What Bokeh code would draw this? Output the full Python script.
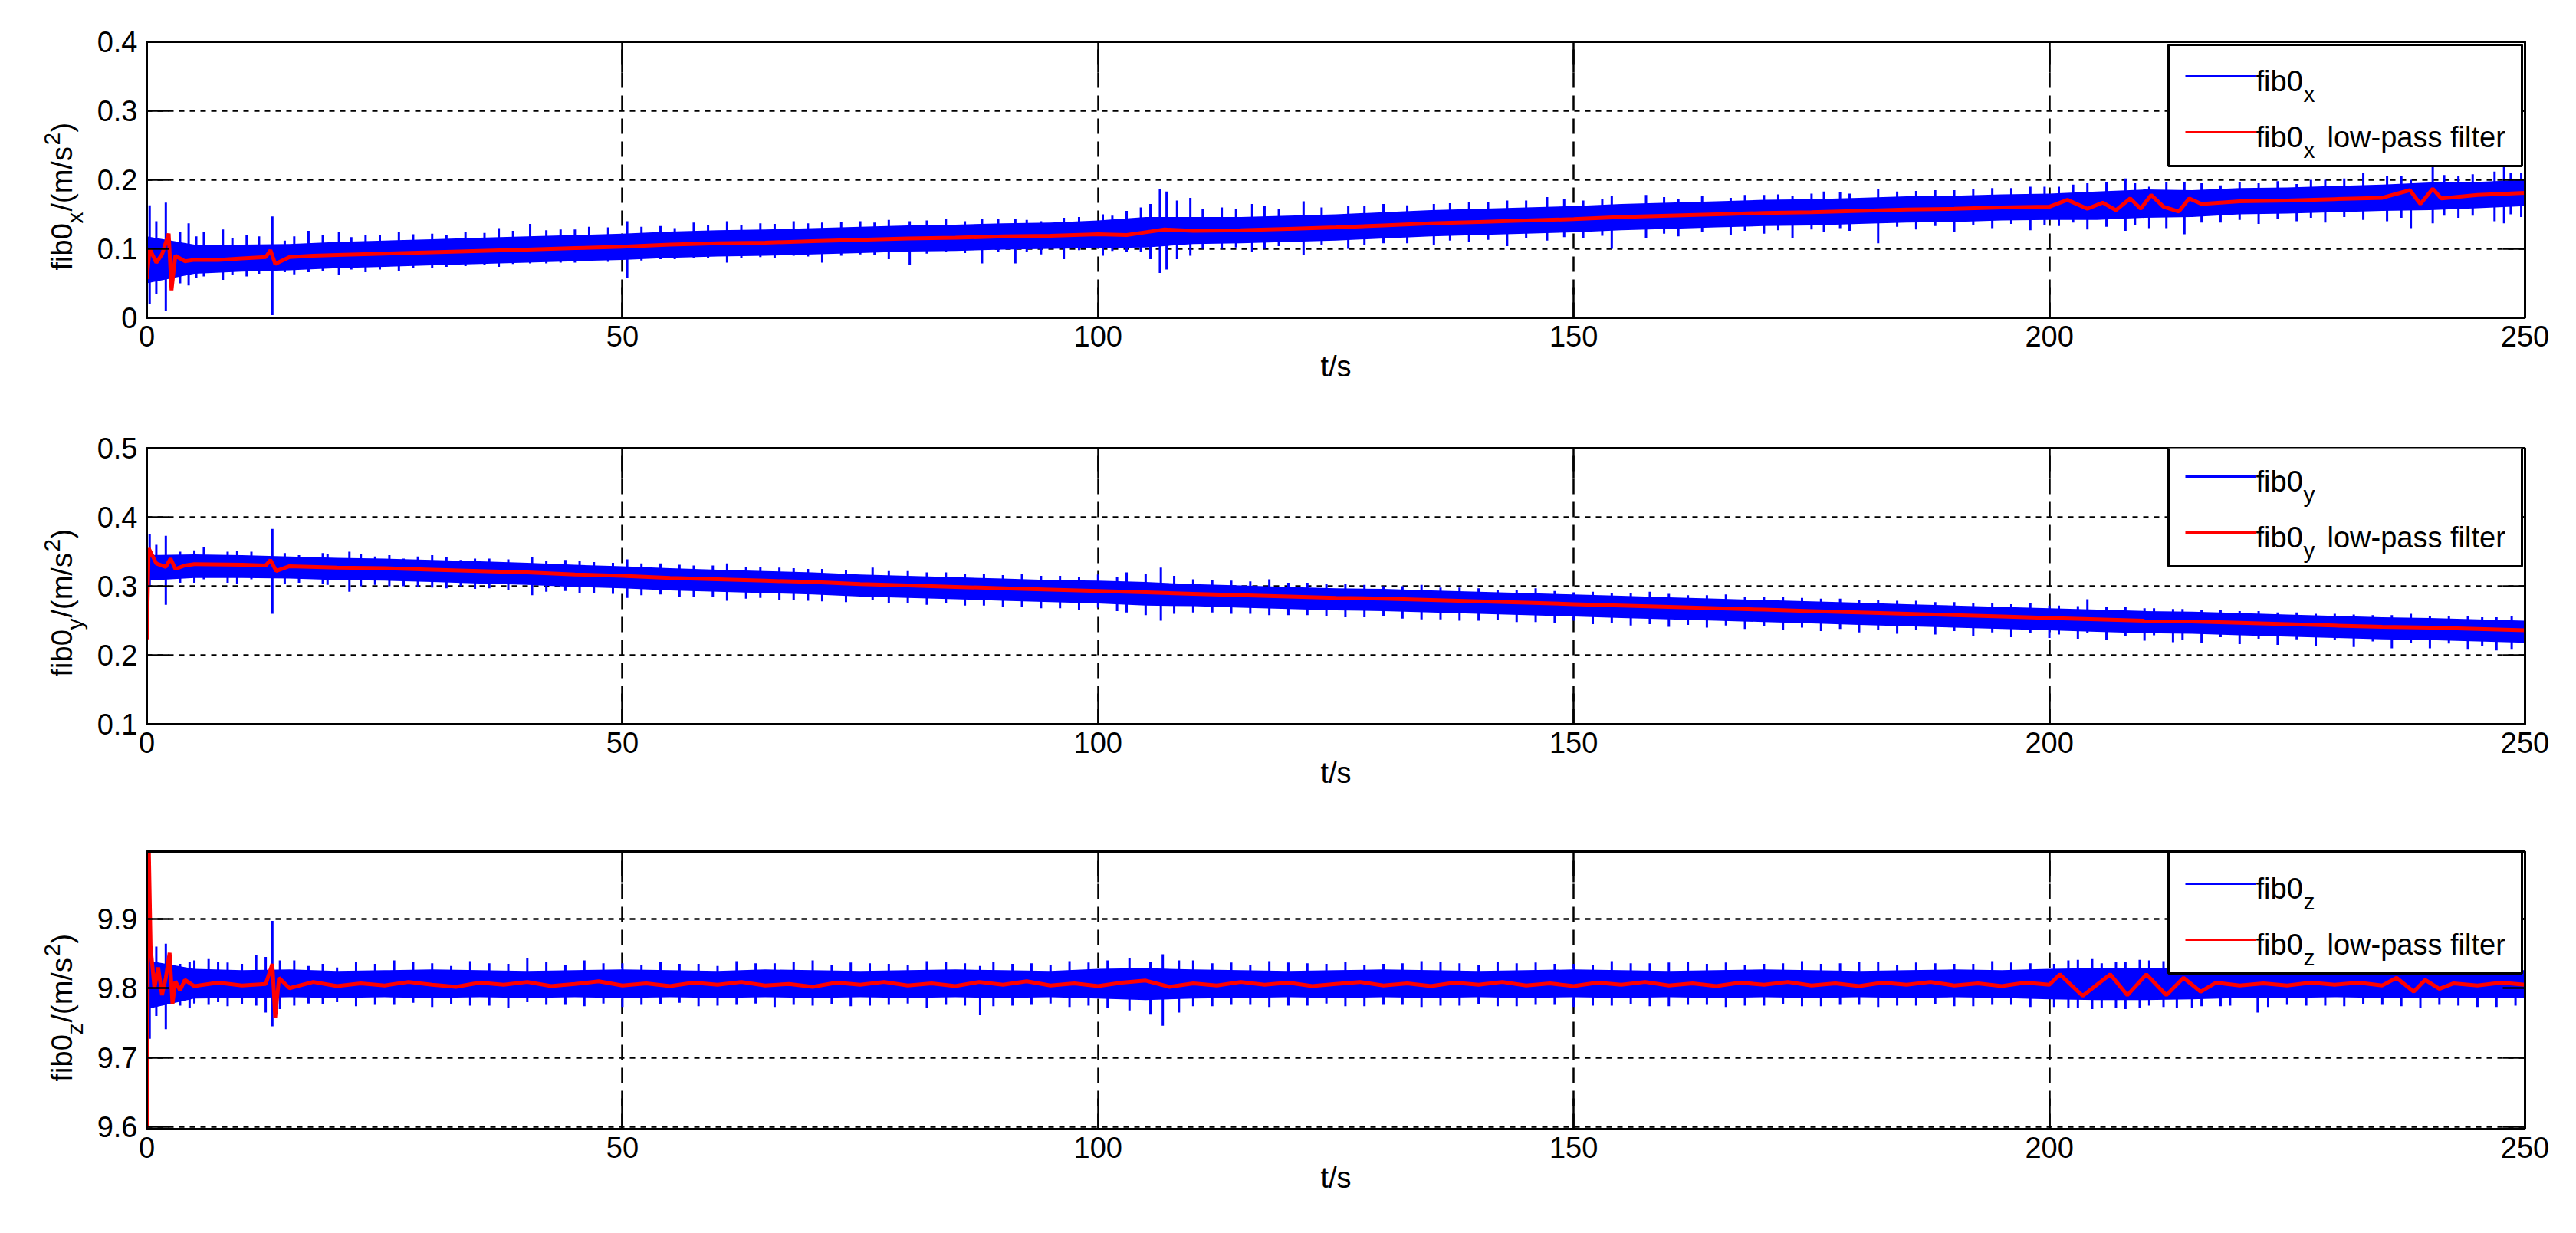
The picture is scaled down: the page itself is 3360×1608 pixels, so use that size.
import numpy as np
from math import pi
from bokeh.plotting import figure
from bokeh.models import (Range1d, FixedTicker, LinearAxis, CustomJSTickFormatter,
                          BoxAnnotation, Label)
from bokeh.layouts import column, row
from bokeh.embed import file_html
from bokeh.resources import INLINE

FONT = "Liberation Sans"
BLUE = "#0000ff"
RED = "#ff0000"

# ---------------- data ----------------
X_TICKS = [0, 50, 100, 150, 200, 250]
T5 = list(range(0, 251, 5))  # envelope sample times (s)

# ---- panel x ----
X_YTICKS = [0, 0.1, 0.2, 0.3, 0.4]
X_HI = [0.118, 0.106, 0.106, 0.107, 0.110, 0.112, 0.114, 0.116, 0.118, 0.120,
        0.122, 0.125, 0.127, 0.128, 0.130, 0.132, 0.134, 0.135, 0.137, 0.138,
        0.141, 0.146, 0.146, 0.146, 0.148, 0.150, 0.153, 0.156, 0.158, 0.160,
        0.162, 0.165, 0.167, 0.169, 0.171, 0.172, 0.174, 0.176, 0.177, 0.179,
        0.180, 0.183, 0.186, 0.185, 0.188, 0.189, 0.191, 0.193, 0.196, 0.197, 0.200]
X_LO = [0.050, 0.064, 0.067, 0.069, 0.072, 0.074, 0.076, 0.078, 0.080, 0.082,
        0.084, 0.087, 0.089, 0.090, 0.092, 0.094, 0.096, 0.097, 0.099, 0.100,
        0.101, 0.102, 0.107, 0.108, 0.110, 0.112, 0.115, 0.118, 0.120, 0.122,
        0.124, 0.127, 0.129, 0.131, 0.133, 0.134, 0.136, 0.138, 0.139, 0.141,
        0.142, 0.142, 0.145, 0.146, 0.150, 0.151, 0.153, 0.155, 0.156, 0.159, 0.162]
XS_T = [0.3, 1.0, 2.0, 3.5, 4.4, 6.0, 8.0, 10.5, 13.2, 15.5, 17.0, 20.2, 23.0, 26.5, 30.0,
        33.5, 37.0, 40.3, 43.5, 46.5, 50.5, 54.0, 57.5, 61.0, 64.5, 68.0, 71.0, 75.0, 78.0,
        80.2, 84.0, 87.8, 91.3, 94.0, 96.4, 100.5, 103.0, 106.5, 107.2, 109.7, 113.0, 116.2,
        119.0, 121.6, 126.3, 130.0, 135.3, 139.0, 143.0, 147.2, 151.0, 154.0, 157.6, 161.0,
        166.5, 170.0, 173.0, 176.3, 179.0, 182.0, 186.0, 190.0, 194.0, 198.0, 201.0, 204.0,
        208.0, 210.5, 212.3, 214.2, 218.0, 222.0, 226.0, 229.0, 233.0, 235.5, 238.0, 240.3,
        243.0, 246.8, 247.8, 249.6]
XS_LO = [0.020, 0.035, 0.010, 0.050, 0.047, 0.060, 0.055, 0.060, 0.004, 0.063, 0.066, 0.062,
         0.066, 0.068, 0.072, 0.075, 0.074, 0.079, 0.080, 0.082, 0.058, 0.085, 0.086, 0.080,
         0.088, 0.090, 0.080, 0.092, 0.085, 0.076, 0.095, 0.079, 0.079, 0.092, 0.085, 0.090,
         0.095, 0.065, 0.070, 0.090, 0.100, 0.095, 0.104, 0.091, 0.100, 0.108, 0.105, 0.110,
         0.104, 0.112, 0.115, 0.100, 0.115, 0.118, 0.120, 0.122, 0.115, 0.124, 0.126, 0.108,
         0.128, 0.125, 0.130, 0.127, 0.133, 0.128, 0.126, 0.130, 0.130, 0.121, 0.138, 0.136,
         0.140, 0.138, 0.142, 0.140, 0.130, 0.137, 0.145, 0.140, 0.137, 0.146]
XS_HI = [0.163, 0.140, 0.167, 0.125, 0.137, 0.125, 0.128, 0.120, 0.147, 0.118, 0.126, 0.124,
         0.120, 0.125, 0.122, 0.124, 0.130, 0.136, 0.128, 0.132, 0.140, 0.133, 0.138, 0.140,
         0.137, 0.140, 0.138, 0.140, 0.142, 0.140, 0.143, 0.143, 0.143, 0.140, 0.145, 0.150,
         0.155, 0.186, 0.183, 0.174, 0.160, 0.165, 0.158, 0.169, 0.162, 0.165, 0.165, 0.168,
         0.170, 0.175, 0.170, 0.177, 0.178, 0.172, 0.174, 0.178, 0.176, 0.183, 0.180, 0.186,
         0.184, 0.185, 0.188, 0.190, 0.190, 0.195, 0.202, 0.190, 0.196, 0.196, 0.192, 0.195,
         0.194, 0.200, 0.210, 0.205, 0.200, 0.219, 0.205, 0.212, 0.219, 0.210]
# additional smaller excursions (t, low, high)
XS_EXTRA = [(5.2, 0.058, 0.118), (9.0, 0.062, 0.115), (11.8, 0.064, 0.118), (14.5, 0.066, 0.112),
            (18.5, 0.068, 0.120), (21.5, 0.070, 0.117), (24.5, 0.070, 0.120), (28.0, 0.072, 0.121),
            (31.5, 0.074, 0.120), (35.5, 0.077, 0.123), (38.5, 0.078, 0.126), (42.0, 0.079, 0.127),
            (45.0, 0.080, 0.128), (48.5, 0.081, 0.131), (52.0, 0.083, 0.132), (55.5, 0.085, 0.130),
            (59.0, 0.086, 0.135), (62.5, 0.087, 0.134), (66.0, 0.087, 0.136), (69.5, 0.089, 0.137),
            (73.0, 0.090, 0.139), (76.5, 0.091, 0.138), (82.0, 0.093, 0.141), (86.0, 0.094, 0.140),
            (89.5, 0.095, 0.144), (92.5, 0.096, 0.142), (98.0, 0.098, 0.146), (101.5, 0.097, 0.148),
            (104.5, 0.095, 0.160), (105.5, 0.085, 0.165), (108.3, 0.085, 0.170), (111.0, 0.100, 0.158),
            (114.5, 0.102, 0.158), (117.5, 0.100, 0.162), (123.5, 0.105, 0.160), (128.0, 0.106, 0.162),
            (132.5, 0.108, 0.163), (137.0, 0.112, 0.166), (141.0, 0.113, 0.168), (145.0, 0.115, 0.170),
            (149.0, 0.117, 0.172), (153.0, 0.119, 0.172), (159.5, 0.122, 0.175), (163.5, 0.124, 0.176),
            (168.0, 0.126, 0.178), (171.5, 0.127, 0.179), (175.0, 0.128, 0.180), (178.0, 0.130, 0.182),
            (184.0, 0.132, 0.183), (188.0, 0.133, 0.185), (192.0, 0.134, 0.186), (196.0, 0.136, 0.188),
            (199.5, 0.135, 0.190), (202.5, 0.138, 0.193), (206.0, 0.132, 0.196), (209.0, 0.135, 0.195),
            (216.0, 0.138, 0.195), (220.0, 0.142, 0.197), (224.0, 0.143, 0.198), (227.5, 0.145, 0.200),
            (231.0, 0.146, 0.202), (237.0, 0.145, 0.206), (241.5, 0.148, 0.207), (244.5, 0.148, 0.208),
            (248.5, 0.150, 0.210)]
XR_T = [0, 0.3, 1, 1.6, 2.3, 2.6, 3, 4, 5, 7.5, 10, 12.5, 13, 13.5, 15, 17.5, 20, 25, 30, 35,
        40, 45, 50, 55, 60, 65, 70, 75, 80, 85, 90, 95, 100, 103, 105, 107, 110, 115, 120, 125,
        130, 135, 140, 145, 150, 155, 160, 165, 170, 175, 180, 185, 190, 195, 200, 201.9, 204.0,
        205.6, 207.0, 208.5, 209.6, 210.7, 212.0, 213.6, 214.7, 216.0, 220, 225, 230, 235,
        237.9, 239.0, 240.3, 241.2, 245, 250]
XR_V = [0.056, 0.100, 0.080, 0.092, 0.122, 0.040, 0.090, 0.082, 0.084, 0.084, 0.086, 0.088,
        0.098, 0.078, 0.088, 0.090, 0.091, 0.093, 0.095, 0.097, 0.099, 0.101, 0.103, 0.106,
        0.108, 0.109, 0.111, 0.113, 0.115, 0.116, 0.118, 0.119, 0.121, 0.120, 0.124, 0.128,
        0.126, 0.127, 0.129, 0.131, 0.134, 0.137, 0.139, 0.141, 0.143, 0.146, 0.148, 0.150,
        0.152, 0.153, 0.155, 0.157, 0.158, 0.160, 0.161, 0.171, 0.158, 0.167, 0.156, 0.173,
        0.158, 0.178, 0.161, 0.154, 0.173, 0.165, 0.169, 0.170, 0.172, 0.174, 0.185, 0.165,
        0.187, 0.173, 0.178, 0.181]

# ---- panel y ----
Y_YTICKS = [0.1, 0.2, 0.3, 0.4, 0.5]
Y_HI = [0.345, 0.346, 0.345, 0.343, 0.341, 0.340, 0.338, 0.336, 0.334, 0.331, 0.329, 0.326,
        0.324, 0.322, 0.320, 0.317, 0.315, 0.313, 0.311, 0.309, 0.308, 0.306, 0.303, 0.301,
        0.299, 0.297, 0.296, 0.294, 0.292, 0.290, 0.288, 0.286, 0.284, 0.282, 0.280, 0.278,
        0.276, 0.274, 0.272, 0.270, 0.268, 0.266, 0.264, 0.263, 0.261, 0.259, 0.257, 0.255,
        0.254, 0.252, 0.250]
Y_LO = [0.308, 0.312, 0.312, 0.311, 0.309, 0.308, 0.306, 0.304, 0.302, 0.299, 0.297, 0.294,
        0.292, 0.290, 0.288, 0.285, 0.283, 0.281, 0.279, 0.277, 0.275, 0.272, 0.271, 0.269,
        0.267, 0.265, 0.264, 0.262, 0.260, 0.258, 0.256, 0.254, 0.252, 0.250, 0.248, 0.246,
        0.244, 0.242, 0.240, 0.238, 0.236, 0.234, 0.232, 0.231, 0.229, 0.227, 0.225, 0.223,
        0.222, 0.220, 0.218]
YS_T = [0.3, 1.0, 2.0, 3.5, 6.0, 8.5, 11.0, 13.2, 16.0, 18.5, 21.3, 24.0, 27.0, 30.0, 33.0,
        36.0, 40.5, 44.0, 47.0, 50.5, 54.0, 57.5, 61.0, 64.5, 68.0, 71.0, 76.3, 80.0, 84.0,
        88.0, 92.0, 96.0, 100.0, 103.0, 106.6, 110.0, 114.0, 118.0, 122.0, 126.0, 130.0,
        134.0, 138.0, 142.0, 146.0, 150.0, 154.0, 158.0, 162.0, 166.0, 170.0, 174.0, 178.0,
        182.0, 186.0, 190.0, 194.0, 198.0, 201.0, 204.0, 208.0, 211.0, 214.0, 218.0, 222.0,
        226.0, 230.0, 234.0, 238.0, 242.0, 245.5, 248.6]
YS_LO = [0.300, 0.310, 0.273, 0.305, 0.310, 0.305, 0.310, 0.260, 0.305, 0.303, 0.292, 0.302,
         0.300, 0.298, 0.300, 0.297, 0.287, 0.293, 0.290, 0.283, 0.288, 0.285, 0.279, 0.283,
         0.280, 0.278, 0.280, 0.276, 0.275, 0.272, 0.270, 0.268, 0.269, 0.262, 0.250, 0.262,
         0.260, 0.258, 0.258, 0.255, 0.256, 0.252, 0.250, 0.251, 0.248, 0.250, 0.246, 0.245,
         0.244, 0.243, 0.242, 0.240, 0.238, 0.237, 0.236, 0.235, 0.233, 0.232, 0.230, 0.232,
         0.228, 0.229, 0.222, 0.226, 0.224, 0.223, 0.222, 0.220, 0.218, 0.217, 0.214, 0.208]
YS_HI = [0.375, 0.360, 0.373, 0.350, 0.357, 0.350, 0.350, 0.383, 0.345, 0.348, 0.350, 0.343,
         0.340, 0.345, 0.338, 0.340, 0.342, 0.338, 0.335, 0.339, 0.333, 0.330, 0.333, 0.328,
         0.326, 0.325, 0.327, 0.322, 0.320, 0.318, 0.318, 0.315, 0.317, 0.320, 0.327, 0.310,
         0.308, 0.310, 0.305, 0.303, 0.300, 0.302, 0.298, 0.295, 0.297, 0.291, 0.290, 0.292,
         0.287, 0.288, 0.285, 0.283, 0.282, 0.280, 0.279, 0.277, 0.276, 0.275, 0.272, 0.281,
         0.270, 0.268, 0.267, 0.265, 0.264, 0.262, 0.260, 0.258, 0.260, 0.257, 0.255, 0.256]
YS_EXTRA = [(5.0, 0.305, 0.352), (9.5, 0.304, 0.351), (14.5, 0.303, 0.348), (19.0, 0.302, 0.347),
            (22.5, 0.300, 0.346), (25.5, 0.300, 0.345), (28.5, 0.299, 0.343), (31.5, 0.297, 0.342),
            (34.5, 0.296, 0.340), (38.0, 0.294, 0.339), (42.0, 0.292, 0.337), (45.5, 0.290, 0.336),
            (49.0, 0.289, 0.334), (52.0, 0.287, 0.333), (56.0, 0.285, 0.331), (59.5, 0.284, 0.330),
            (63.0, 0.282, 0.328), (66.5, 0.280, 0.327), (69.5, 0.279, 0.325), (73.5, 0.277, 0.324),
            (78.0, 0.275, 0.322), (82.0, 0.273, 0.320), (86.0, 0.272, 0.318), (90.0, 0.270, 0.316),
            (94.0, 0.268, 0.315), (98.0, 0.266, 0.313), (102.0, 0.264, 0.313), (105.0, 0.258, 0.318),
            (108.0, 0.260, 0.315), (112.0, 0.262, 0.309), (116.0, 0.260, 0.307), (120.0, 0.258, 0.305),
            (124.0, 0.257, 0.303), (128.0, 0.255, 0.302), (132.0, 0.253, 0.300), (136.0, 0.252, 0.298),
            (140.0, 0.250, 0.297), (144.0, 0.248, 0.295), (148.0, 0.247, 0.293), (152.0, 0.245, 0.292),
            (156.0, 0.243, 0.290), (160.0, 0.241, 0.289), (164.0, 0.240, 0.287), (168.0, 0.238, 0.285),
            (172.0, 0.236, 0.284), (176.0, 0.235, 0.282), (180.0, 0.233, 0.280), (184.0, 0.231, 0.279),
            (188.0, 0.230, 0.277), (192.0, 0.228, 0.275), (196.0, 0.226, 0.274), (200.0, 0.225, 0.272),
            (203.0, 0.224, 0.271), (206.0, 0.222, 0.270), (210.0, 0.221, 0.268), (213.0, 0.219, 0.267),
            (216.0, 0.218, 0.265), (220.0, 0.216, 0.264), (224.0, 0.215, 0.262), (228.0, 0.213, 0.260),
            (232.0, 0.212, 0.259), (236.0, 0.210, 0.258), (240.0, 0.210, 0.257), (244.0, 0.208, 0.256),
            (247.0, 0.207, 0.255)]
YR_T = [0, 0.2, 1, 2, 2.5, 3, 4, 5, 10, 12.5, 13, 13.6, 15, 20, 25, 30, 35, 40, 45, 50, 55,
        60, 65, 70, 75, 80, 85, 90, 95, 100, 105, 110, 115, 120, 125, 130, 135, 140, 145, 150,
        155, 160, 165, 170, 175, 180, 185, 190, 195, 200, 205, 210, 215, 220, 225, 230, 235,
        240, 245, 250]
YR_V = [0.223, 0.355, 0.333, 0.328, 0.340, 0.325, 0.330, 0.332, 0.331, 0.330, 0.338, 0.322,
        0.329, 0.327, 0.326, 0.324, 0.322, 0.320, 0.317, 0.315, 0.312, 0.310, 0.308, 0.306,
        0.303, 0.301, 0.299, 0.297, 0.295, 0.293, 0.291, 0.289, 0.287, 0.285, 0.283, 0.282,
        0.280, 0.278, 0.276, 0.274, 0.272, 0.270, 0.268, 0.266, 0.264, 0.262, 0.260, 0.258,
        0.256, 0.254, 0.252, 0.250, 0.249, 0.247, 0.245, 0.243, 0.241, 0.240, 0.238, 0.236]

# ---- panel z ----
Z_YTICKS = [9.6, 9.7, 9.8, 9.9]
Z_HI = [9.840, 9.828, 9.826, 9.827, 9.825, 9.826, 9.827, 9.826, 9.825, 9.826, 9.827, 9.826,
        9.825, 9.827, 9.826, 9.825, 9.826, 9.827, 9.826, 9.825, 9.828, 9.829, 9.827, 9.826,
        9.825, 9.826, 9.827, 9.826, 9.825, 9.826, 9.827, 9.826, 9.825, 9.826, 9.827, 9.826,
        9.825, 9.826, 9.827, 9.826, 9.828, 9.829, 9.829, 9.828, 9.827, 9.826, 9.827, 9.826,
        9.825, 9.826, 9.826]
Z_LO = [9.770, 9.785, 9.786, 9.787, 9.786, 9.787, 9.786, 9.787, 9.786, 9.787, 9.786, 9.787,
        9.786, 9.787, 9.786, 9.787, 9.786, 9.787, 9.786, 9.787, 9.785, 9.783, 9.785, 9.786,
        9.787, 9.786, 9.787, 9.786, 9.787, 9.786, 9.787, 9.786, 9.787, 9.786, 9.787, 9.786,
        9.787, 9.786, 9.787, 9.786, 9.784, 9.783, 9.783, 9.784, 9.786, 9.786, 9.787, 9.786,
        9.786, 9.786, 9.786]
ZS_T = [0.3, 1.0, 2.0, 3.5, 5.0, 7.5, 10.0, 11.5, 12.5, 13.2, 14.0, 17.0, 20.0, 24.0, 28.0,
        32.0, 36.0, 40.0, 44.0, 48.0, 52.0, 56.0, 60.0, 64.0, 68.0, 72.0, 76.0, 80.0, 84.0,
        87.6, 91.0, 95.0, 99.0, 103.3, 105.5, 106.8, 108.5, 112.0, 116.0, 120.0, 124.0, 128.0,
        132.0, 136.0, 140.0, 144.0, 148.0, 152.0, 156.0, 160.0, 164.0, 168.0, 172.0, 176.0,
        180.0, 184.0, 188.0, 192.0, 196.0, 200.5, 203.0, 205.5, 208.0, 210.5, 213.4, 216.0,
        219.0, 221.9, 225.0, 229.0, 233.0, 237.0, 241.0, 245.0, 249.0]
ZS_LO = [9.727, 9.760, 9.741, 9.775, 9.778, 9.780, 9.777, 9.775, 9.765, 9.745, 9.770, 9.778,
         9.780, 9.776, 9.779, 9.777, 9.775, 9.780, 9.776, 9.778, 9.776, 9.779, 9.775, 9.778,
         9.776, 9.777, 9.775, 9.778, 9.776, 9.761, 9.775, 9.778, 9.775, 9.768, 9.762, 9.746,
         9.765, 9.774, 9.776, 9.775, 9.778, 9.774, 9.776, 9.775, 9.777, 9.774, 9.776, 9.775,
         9.777, 9.774, 9.776, 9.775, 9.777, 9.774, 9.776, 9.775, 9.777, 9.774, 9.776, 9.773,
         9.772, 9.772, 9.770, 9.775, 9.772, 9.774, 9.775, 9.765, 9.776, 9.775, 9.777, 9.774,
         9.776, 9.773, 9.775]
ZS_HI = [9.900, 9.860, 9.864, 9.835, 9.840, 9.838, 9.835, 9.848, 9.845, 9.897, 9.840, 9.832,
         9.830, 9.835, 9.838, 9.832, 9.836, 9.843, 9.834, 9.836, 9.833, 9.835, 9.832, 9.836,
         9.838, 9.834, 9.836, 9.833, 9.838, 9.832, 9.835, 9.834, 9.837, 9.844, 9.838, 9.849,
         9.840, 9.836, 9.834, 9.837, 9.835, 9.834, 9.836, 9.838, 9.834, 9.836, 9.835, 9.833,
         9.836, 9.837, 9.835, 9.834, 9.836, 9.835, 9.838, 9.834, 9.836, 9.835, 9.837, 9.835,
         9.841, 9.836, 9.838, 9.840, 9.845, 9.836, 9.830, 9.830, 9.830, 9.830, 9.830, 9.830,
         9.830, 9.830, 9.830]
ZS_EXTRA = [(4.5, 9.772, 9.838), (6.5, 9.776, 9.842), (8.5, 9.774, 9.837), (15.5, 9.775, 9.840),
            (18.5, 9.777, 9.835), (22.0, 9.774, 9.838), (26.0, 9.776, 9.840), (30.0, 9.773, 9.836),
            (34.0, 9.775, 9.839), (38.0, 9.772, 9.835), (42.0, 9.776, 9.838), (46.0, 9.774, 9.840),
            (50.0, 9.773, 9.836), (54.0, 9.777, 9.838), (58.0, 9.774, 9.835), (62.0, 9.776, 9.839),
            (66.0, 9.773, 9.836), (70.0, 9.775, 9.840), (74.0, 9.774, 9.837), (78.0, 9.776, 9.835),
            (82.0, 9.772, 9.839), (86.0, 9.775, 9.836), (89.0, 9.774, 9.838), (93.0, 9.776, 9.836),
            (97.0, 9.773, 9.839), (101.0, 9.772, 9.840), (110.0, 9.774, 9.840), (114.0, 9.776, 9.837),
            (118.0, 9.773, 9.839), (122.0, 9.775, 9.836), (126.0, 9.774, 9.838), (130.0, 9.776, 9.835),
            (134.0, 9.773, 9.839), (138.0, 9.775, 9.836), (142.0, 9.774, 9.838), (146.0, 9.776, 9.837),
            (150.0, 9.773, 9.835), (154.0, 9.775, 9.839), (158.0, 9.774, 9.836), (162.0, 9.776, 9.838),
            (166.0, 9.773, 9.837), (170.0, 9.775, 9.835), (174.0, 9.774, 9.839), (178.0, 9.776, 9.836),
            (182.0, 9.773, 9.838), (186.0, 9.775, 9.837), (190.0, 9.774, 9.835), (194.0, 9.776, 9.839),
            (198.0, 9.773, 9.836), (202.0, 9.771, 9.840), (204.5, 9.770, 9.842), (207.0, 9.772, 9.838),
            (209.5, 9.771, 9.841), (212.0, 9.773, 9.839), (215.0, 9.772, 9.837), (218.0, 9.774, 9.830),
            (223.0, 9.773, 9.830), (227.0, 9.775, 9.830), (231.0, 9.774, 9.830), (235.0, 9.776, 9.830),
            (239.0, 9.772, 9.830), (243.0, 9.775, 9.830), (247.0, 9.773, 9.830)]
ZR_T_START = [0, 0.15, 0.4, 0.8, 1.2, 1.6, 2.0, 2.4, 2.7, 3.0, 3.5, 4.0, 5, 7.5, 10, 12.5,
              13.2, 13.5, 13.9, 15]
ZR_V_START = [9.40, 10.05, 9.860, 9.800, 9.830, 9.790, 9.815, 9.851, 9.777, 9.810, 9.797,
              9.812, 9.803, 9.808, 9.804, 9.806, 9.835, 9.758, 9.815, 9.800]
ZR_T_MID = list(np.arange(17.5, 200.1, 2.5))
ZR_V_MID = [9.809, 9.803, 9.807, 9.804, 9.809, 9.805, 9.802, 9.808, 9.805, 9.809, 9.803,
            9.806, 9.810, 9.804, 9.807, 9.803, 9.808, 9.805, 9.809, 9.804, 9.806, 9.802,
            9.808, 9.805, 9.809, 9.804, 9.807, 9.803, 9.809, 9.805, 9.810, 9.804, 9.807,
            9.803, 9.808, 9.811, 9.802, 9.807, 9.804, 9.809, 9.805, 9.808, 9.803, 9.806,
            9.809, 9.804, 9.807, 9.803, 9.808, 9.805, 9.809, 9.804, 9.807, 9.803, 9.808,
            9.805, 9.809, 9.804, 9.807, 9.803, 9.808, 9.805, 9.809, 9.804, 9.807, 9.803,
            9.808, 9.805, 9.809, 9.804, 9.807, 9.803, 9.808, 9.805]
ZR_T_END = [201.1, 203.5, 206.4, 208.2, 210.2, 212.3, 214.1, 215.9, 217.5, 220, 222.5, 225,
            227.5, 230, 232.5, 235, 236.5, 238.3, 239.5, 241, 242.5, 245, 247.5, 250]
ZR_V_END = [9.820, 9.789, 9.820, 9.790, 9.820, 9.790, 9.815, 9.795, 9.808, 9.804, 9.807,
            9.804, 9.808, 9.805, 9.808, 9.804, 9.815, 9.795, 9.812, 9.799, 9.807, 9.804,
            9.808, 9.805]

n = min(len(ZR_T_MID), len(ZR_V_MID))
ZR_T = ZR_T_START + ZR_T_MID[:n] + ZR_T_END
ZR_V = ZR_V_START + ZR_V_MID[:n] + ZR_V_END


def spikes(t, lo, hi, extra):
    return (list(t) + [e[0] for e in extra], list(lo) + [e[1] for e in extra],
            list(hi) + [e[2] for e in extra])


# ---------------- layout ----------------
FW = 3102            # frame width (px)
LW = 120             # width of the strip that carries the y-axis label
LEFT_B, RIGHT_B, BOTTOM_B = 71, 32, 116
T0, T1 = 0, 250


def label_strip(height, frame_h, top_b, letter):
    # frame of this strip is aligned with the panel frame; 1 data unit = 1 px
    s = figure(width=LW, height=height, x_range=Range1d(0, LW), y_range=Range1d(0, frame_h),
               output_backend="svg", toolbar_location=None, tools="",
               x_axis_location=None, y_axis_location=None,
               min_border_left=0, min_border_right=0, min_border_top=top_b,
               min_border_bottom=BOTTOM_B)
    s.outline_line_color = None
    s.background_fill_color = "white"
    s.border_fill_color = "white"
    s.xgrid.visible = False
    s.ygrid.visible = False
    base = 62                     # label starts 62 px above the frame bottom
    bx = 80                       # baseline x of the rotated text
    pieces = [("fib0", "38px", bx, 0), (letter, "30px", bx + 17, 61),
              ("/(m/s", "38px", bx, 77), ("2", "30px", bx - 13, 163),
              (")", "38px", bx, 180)]
    for txt, size, xpx, along in pieces:
        s.add_layout(Label(x=xpx, y=base + along, text=txt, text_font=FONT,
                           text_font_size=size, text_color="black", angle=pi / 2,
                           text_baseline="alphabetic", text_align="left"))
    return s


def make_panel(y0, y1, yticks, frame_h, top_b, hi, lo, s_t, s_lo, s_hi, r_t, r_v,
               letter, legend_top):
    height = top_b + frame_h + BOTTOM_B
    p = figure(width=LEFT_B + FW + RIGHT_B, height=height,
               x_range=Range1d(T0, T1), y_range=Range1d(y0, y1),
               output_backend="svg", toolbar_location=None, tools="",
               min_border_left=LEFT_B, min_border_right=RIGHT_B,
               min_border_top=top_b, min_border_bottom=BOTTOM_B)
    p.background_fill_color = "white"
    p.border_fill_color = "white"
    p.outline_line_color = "black"
    p.outline_line_width = 3

    xa = p.xaxis[0]
    xa.ticker = FixedTicker(ticks=X_TICKS)
    xa.axis_label = "t/s"
    xa.axis_label_text_font = FONT
    xa.axis_label_text_font_size = "38px"
    xa.axis_label_text_font_style = "normal"
    xa.axis_label_text_color = "black"
    xa.axis_label_standoff = 2
    xa.major_label_text_font = FONT
    xa.major_label_text_font_size = "38px"
    xa.major_label_text_color = "black"
    xa.major_label_standoff = 10
    xa.major_tick_in = 40
    xa.major_tick_out = 0
    xa.major_tick_line_width = 2.5
    xa.minor_tick_line_color = None
    xa.axis_line_width = 3

    ya = p.yaxis[0]
    ya.ticker = FixedTicker(ticks=yticks)
    ya.formatter = CustomJSTickFormatter(
        code="var s = tick.toFixed(1); return s == '0.0' ? '0' : s;")
    ya.major_label_text_font = FONT
    ya.major_label_text_font_size = "38px"
    ya.major_label_text_color = "black"
    ya.major_label_standoff = 12
    ya.major_tick_in = 29
    ya.major_tick_out = 0
    ya.major_tick_line_width = 2.5
    ya.minor_tick_line_color = None
    ya.axis_line_width = 3

    ra = LinearAxis(ticker=FixedTicker(ticks=yticks),
                    formatter=CustomJSTickFormatter(code="return '';"),
                    major_tick_in=29, major_tick_out=0, major_tick_line_width=2.5,
                    minor_tick_line_color=None, axis_line_width=3, major_label_standoff=0)
    p.add_layout(ra, "right")
    ta = LinearAxis(ticker=FixedTicker(ticks=X_TICKS),
                    formatter=CustomJSTickFormatter(code="return '';"),
                    major_tick_in=40, major_tick_out=0, major_tick_line_width=2.5,
                    minor_tick_line_color=None, axis_line_width=3, major_label_standoff=0)
    p.add_layout(ta, "above")

    p.xgrid.grid_line_color = "black"
    p.xgrid.grid_line_width = 2.5
    p.xgrid.grid_line_dash = "20 10"
    p.ygrid.grid_line_color = "black"
    p.ygrid.grid_line_width = 2.5
    p.ygrid.grid_line_dash = "7 7"

    # data
    p.varea(x=T5, y1=lo, y2=hi, fill_color=BLUE, fill_alpha=1)
    p.segment(x0=s_t, y0=s_lo, x1=s_t, y1=s_hi, line_color=BLUE, line_width=3)
    p.line(r_t, r_v, line_color=RED, line_width=5)

    def xd(px):
        return T0 + px * (T1 - T0) / FW

    def yd(px_below_top):
        return y1 - px_below_top * (y1 - y0) / frame_h

    # legend
    p.add_layout(BoxAnnotation(left=xd(2637), right=xd(3098), top=yd(legend_top),
                               bottom=yd(legend_top + 158), fill_color="white",
                               fill_alpha=1, line_color="black", line_alpha=1,
                               line_width=3))
    for dy, col, extra in ((41, BLUE, None), (114, RED, "low-pass filter")):
        ly = legend_top + dy
        p.add_layout(BoxAnnotation(left=xd(2659), right=xd(2751), top=yd(ly - 1.5),
                                   bottom=yd(ly + 1.5), fill_color=col, fill_alpha=1,
                                   line_color=None))
        p.add_layout(Label(x=xd(2751), y=yd(ly + 6), text="fib0", text_font=FONT,
                           text_font_size="38px", text_color="black",
                           text_baseline="alphabetic", text_align="left"))
        p.add_layout(Label(x=xd(2751 + 62), y=yd(ly + 6 + 17), text=letter, text_font=FONT,
                           text_font_size="30px", text_color="black",
                           text_baseline="alphabetic", text_align="left"))
        if extra:
            p.add_layout(Label(x=xd(2751 + 93), y=yd(ly + 6), text=extra, text_font=FONT,
                               text_font_size="38px", text_color="black",
                               text_baseline="alphabetic", text_align="left"))

    return row(label_strip(height, frame_h, top_b, letter), p, spacing=0)


xs = spikes(XS_T, XS_LO, XS_HI, XS_EXTRA)
ys = spikes(YS_T, YS_LO, YS_HI, YS_EXTRA)
zs = spikes(ZS_T, ZS_LO, ZS_HI, ZS_EXTRA)

r1 = make_panel(0, 0.4, X_YTICKS, 360, 54, X_HI, X_LO, *xs, XR_T, XR_V, "x", 4)
r2 = make_panel(0.1, 0.5, Y_YTICKS, 360, 54, Y_HI, Y_LO, *ys, YR_T, YR_V, "y", -4)
r3 = make_panel(9.597, 9.997, Z_YTICKS, 362, 50, Z_HI, Z_LO, *zs, ZR_T, ZR_V, "z", 1)

layout = column(r1, r2, r3, spacing=0)
open("out.html", "w").write(file_html(layout, INLINE))
